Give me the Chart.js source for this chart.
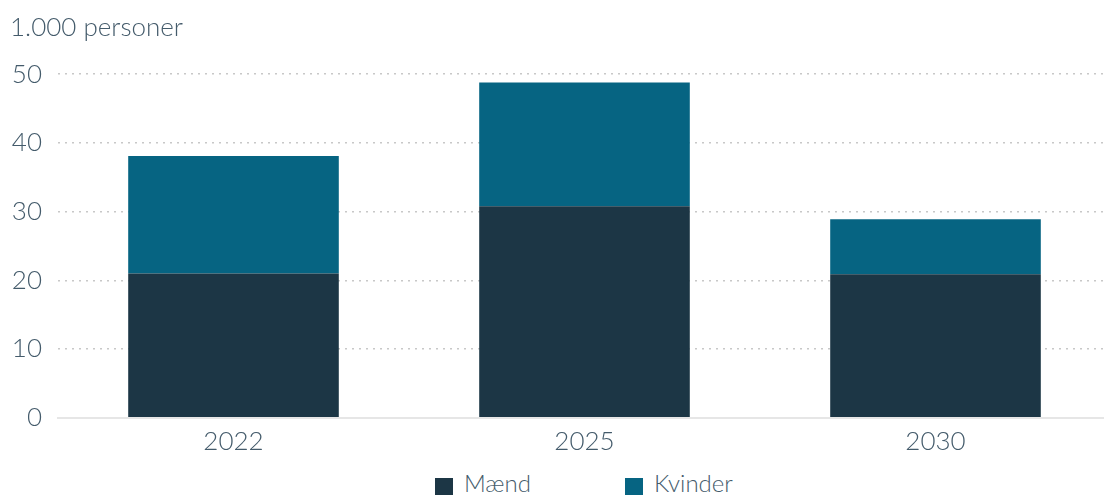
<!DOCTYPE html>
<html>
<head>
<meta charset="utf-8">
<script src="https://cdn.jsdelivr.net/npm/chart.js@4"></script>
<style>
    html, body { margin: 0; padding: 0; background: #fff; overflow: hidden; }
    #wrap { position: relative; width: 1111px; height: 465px; }
    #legend {
        position: absolute; left: 0; top: 469px; width: 1111px;
        font-family: Lato, sans-serif; font-weight: 300; font-size: 24px; color: #445b6b;
    }
    .item { position: absolute; top: 0; line-height: 28px; }
    .box { display: inline-block; width: 18px; height: 18px; vertical-align: -4px; margin-right: 11px; }
</style>
</head>
<body>
<div id="wrap"><canvas id="chart"></canvas></div>
<div id="legend"></div>
<script>
// Data
const years = ['2022', '2025', '2030'];
const maend = [21.0, 30.8, 20.9];
const kvinder = [17.1, 18.0, 8.0];
const seriesNames = ['Mænd', 'Kvinder'];
const seriesColors = ['#1c3645', '#066482'];
const yTicks = [0, 10, 20, 30, 40, 50];

const textColor = '#445b6b';
const fontFamily = 'Lato, sans-serif';

function buildLegend() {
    const legend = document.getElementById('legend');
    const lefts = [435, 625];
    seriesNames.forEach((name, i) => {
        const el = document.createElement('div');
        el.className = 'item';
        el.style.left = lefts[i] + 'px';
        el.innerHTML = `<span class="box" style="background:${seriesColors[i]}"></span>${name}`;
        legend.appendChild(el);
    });
}

new Chart(document.getElementById('chart'), {
    type: 'bar',
    data: {
        labels: years,
        datasets: [
            { label: seriesNames[0], data: maend, backgroundColor: seriesColors[0], barPercentage: 0.6, categoryPercentage: 1 },
            { label: seriesNames[1], data: kvinder, backgroundColor: seriesColors[1], barPercentage: 0.6, categoryPercentage: 1 }
        ]
    },
    options: {
        responsive: true,
        maintainAspectRatio: false,
        animation: false,
        layout: { padding: { left: 10, right: 0, top: 0, bottom: 0 } },
        plugins: {
            legend: { display: false },
            tooltip: { enabled: false },
            title: {
                display: true,
                text: '1.000 personer',
                align: 'start',
                color: textColor,
                font: { family: fontFamily, size: 26, weight: '300' },
                padding: { top: 12, bottom: 31 }
            }
        },
        scales: {
            x: {
                stacked: true,
                grid: { display: false, drawTicks: false },
                border: { display: true, color: '#e6e6e6', width: 2 },
                ticks: {
                    color: textColor,
                    padding: 8,
                    font: { family: fontFamily, size: 26, weight: '300' }
                }
            },
            y: {
                stacked: true,
                min: 0,
                max: 50,
                afterFit: (scale) => { scale.width = 48; },
                afterBuildTicks: (scale) => { scale.ticks = yTicks.map(v => ({ value: v })); },
                grid: { color: '#c8c8c8', lineWidth: 1.5, drawTicks: false },
                border: { display: false, dash: [2, 5] },
                ticks: {
                    color: textColor,
                    padding: 16,
                    font: { family: fontFamily, size: 26, weight: '300' }
                }
            }
        }
    }
});

buildLegend();
</script>
</body>
</html>
